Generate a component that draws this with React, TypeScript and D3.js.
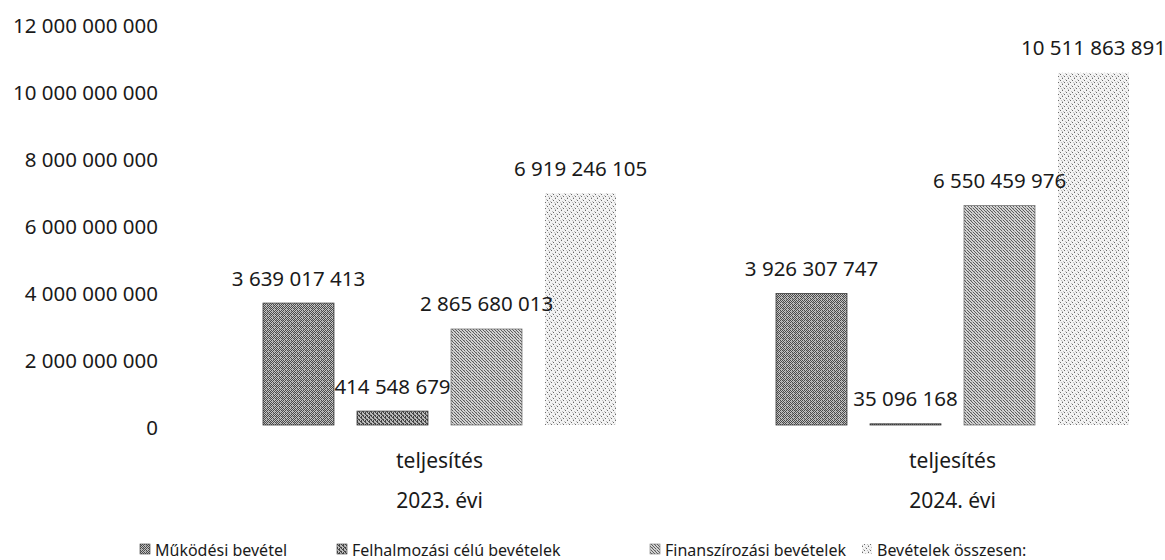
import React from "react";
import * as d3 from "d3";

const categories = ["2023. évi", "2024. évi"];
const subLabel = "teljesítés";
const seriesNames = [
  "Működési bevétel",
  "Felhalmozási célú bevételek",
  "Finanszírozási bevételek",
  "Bevételek összesen:",
];
const values2023 = [3639017413, 414548679, 2865680013, 6919246105];
const values2024 = [3926307747, 35096168, 6550459976, 10511863891];
const yTicks = [0, 2e9, 4e9, 6e9, 8e9, 10e9, 12e9];

const W = 1165;
const H = 560;
const FONT = "'Noto Sans', 'Open Sans', sans-serif";

// pixel tiles for dithered textures: '#' dark, 'o' mid, '.' light
const tiles = [
  {
    rows: ["#.#.#.", ".#.#.#", "#.#o#.", ".o.#.#", "#.#.#.", "o#.#.o"],
    dark: "#4a4a4a",
    mid: "#9a9a9a",
    light: "#c4c4c4",
    stroke: "#3a3a3a",
  },
  {
    rows: ["#.#.", ".##.", "..#o", "#..#"],
    dark: "#444444",
    mid: "#8c8c8c",
    light: "#bdbdbd",
    stroke: "#3a3a3a",
  },
  {
    rows: ["#..#..", ".#o.#.", "..#..#", "o..#..", ".#..#o", "..#..#"],
    dark: "#5c5c5c",
    mid: "#a4a4a4",
    light: "#d4d4d4",
    stroke: "#777777",
  },
  {
    rows: ["#.....", "...o..", "....#.", ".o....", "..#..o", "o....."],
    dark: "#6a6a6a",
    mid: "#c0c0c0",
    light: "#f3f3f3",
    stroke: "none",
  },
];

const legendX = [140, 337, 650, 862];

const locale = d3.formatLocale({
  decimal: ",",
  thousands: " ",
  grouping: [3],
  currency: ["", ""],
});
const fmt = locale.format(",d");

export default function App() {
  const data = categories.map((c, i) => ({
    cat: c,
    vals: i === 0 ? values2023 : values2024,
  }));

  const y = d3.scaleLinear().domain([0, 12e9]).range([425, 23]);
  const x0 = d3.scaleBand<string>().domain(categories).range([183, 1209]).padding(0);
  const bw = x0.bandwidth();
  const inner = 353;
  const x1 = d3
    .scaleBand<string>()
    .domain(seriesNames)
    .range([bw / 2 - inner / 2, bw / 2 + inner / 2])
    .paddingInner(0.245)
    .paddingOuter(0);

  const pat = (t: (typeof tiles)[number], i: number) => {
    const n = t.rows.length;
    const m = t.rows[0].length;
    const cells: JSX.Element[] = [];
    t.rows.forEach((r, ry) =>
      r.split("").forEach((ch, rx) => {
        const col = ch === "#" ? t.dark : ch === "o" ? t.mid : t.light;
        cells.push(<rect key={`${rx}-${ry}`} x={rx} y={ry} width={1} height={1} fill={col} />);
      })
    );
    return (
      <pattern key={i} id={`p${i}`} width={m} height={n} patternUnits="userSpaceOnUse">
        {cells}
      </pattern>
    );
  };

  return (
    <svg
      width={W}
      height={H}
      style={{ position: "absolute", left: 0, top: 0, background: "#fff" }}
      fontFamily={FONT}
    >
      <defs>{tiles.map(pat)}</defs>
      <rect width={W} height={H} fill="#fff" />

      {/* y axis labels */}
      {yTicks.map((t) => (
        <text
          key={t}
          x={158}
          y={y(t) + 2}
          textAnchor="end"
          dominantBaseline="central"
          fontSize={20.5}
          fill="#1a1a1a"
        >
          {fmt(t)}
        </text>
      ))}

      {/* bars */}
      {data.map((d) => (
        <g key={d.cat} transform={`translate(${x0(d.cat)},0)`}>
          {d.vals.map((v, i) => {
            const bx = x1(seriesNames[i])!;
            const top = y(v);
            return (
              <rect
                key={i}
                x={bx}
                y={top}
                width={x1.bandwidth()}
                height={y(0) - top}
                fill={`url(#p${i})`}
                stroke={tiles[i].stroke}
                strokeWidth={tiles[i].stroke === "none" ? 0 : 0.8}
              />
            );
          })}
        </g>
      ))}

      {/* value labels and category labels on top */}
      {data.map((d) => (
        <g key={d.cat + "-l"} transform={`translate(${x0(d.cat)},0)`}>
          {d.vals.map((v, i) => (
            <text
              key={i}
              x={x1(seriesNames[i])! + x1.bandwidth() / 2}
              y={y(v) - 25.5}
              textAnchor="middle"
              dominantBaseline="central"
              fontSize={20.5}
              fill="#1a1a1a"
            >
              {fmt(v)}
            </text>
          ))}
          <text
            x={bw / 2}
            y={460}
            textAnchor="middle"
            dominantBaseline="central"
            fontSize={21}
            fill="#1a1a1a"
          >
            {subLabel}
          </text>
          <text
            x={bw / 2}
            y={500}
            textAnchor="middle"
            dominantBaseline="central"
            fontSize={21}
            fill="#1a1a1a"
          >
            {d.cat}
          </text>
        </g>
      ))}

      {/* legend */}
      {seriesNames.map((s, i) => (
        <g key={s} transform={`translate(${legendX[i]},0)`}>
          <rect
            x={0}
            y={544}
            width={10}
            height={10}
            fill={`url(#p${i})`}
            stroke={i === 3 ? "none" : tiles[i].stroke}
            strokeWidth={0.6}
          />
          <text x={15} y={556} fontSize={16} fill="#1a1a1a">
            {s}
          </text>
        </g>
      ))}
    </svg>
  );
}
